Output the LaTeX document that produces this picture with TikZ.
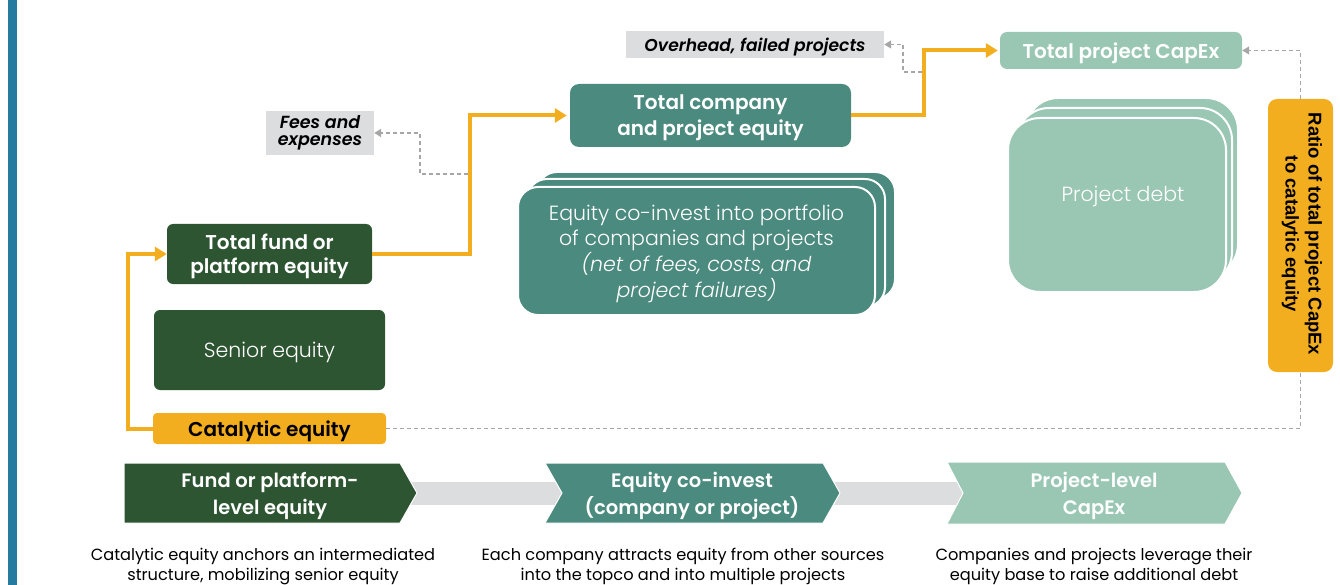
\documentclass[tikz,border=0pt]{standalone}
\usepackage{fontspec}
\setmainfont{Poppins}[BoldFont={Poppins SemiBold}, BoldItalicFont={Poppins SemiBold Italic}]
\newfontfamily\lightfont{Poppins Light}[ItalicFont={Poppins Light Italic}]
\newfontfamily\arialish{Liberation Sans}
\usetikzlibrary{arrows.meta}

\definecolor{dgreen}{HTML}{2D5532}
\definecolor{tealg}{HTML}{4B8A7E}
\definecolor{lgreen}{HTML}{99C7B3}
\definecolor{amber}{HTML}{F3AE1F}
\definecolor{boxgray}{HTML}{DCDDDF}
\definecolor{sideblue}{HTML}{267BA0}
\definecolor{dashgray}{HTML}{A6A6A6}

\tikzset{
  box/.style={rounded corners=6pt, inner sep=0pt, align=center, text=white, text depth=0pt},
  boldtxt/.style={font=\fontsize{20}{24}\selectfont\bfseries},
  lighttxt/.style={font=\lightfont\fontsize{20.5}{25.7}\selectfont},
  notebox/.style={fill=boxgray, inner sep=0pt, align=center, text=black},
  flow/.style={draw=amber, line width=4pt, -{Triangle[length=12pt,width=14pt]}},
  leak/.style={draw=dashgray, line width=1.3pt, dash pattern=on 4pt off 3pt,
    -{Triangle[length=7pt,width=8pt]}},
  leakplain/.style={draw=dashgray, line width=1.3pt, dash pattern=on 4pt off 3pt},
  layer/.style={draw=white, line width=2pt},
  chevtext/.style={text=white, align=center, text depth=0pt, font=\fontsize{19.5}{27}\selectfont\bfseries},
  caption/.style={text=black, align=center, font=\fontsize{16.2}{19.5}\selectfont},
}

\begin{document}
\begin{tikzpicture}[x=1pt, y=-1pt]
\useasboundingbox (0,0) rectangle (1340,585);

% left accent bar
\fill[sideblue] (8,0) rectangle (17,585);

% ---------- fund level ----------
\node[box, fill=dgreen, minimum width=205pt, minimum height=60pt, boldtxt] (fund) at (269.5,254) {Total fund or\\platform equity};
\node[box, fill=dgreen, minimum width=231pt, minimum height=80pt, lighttxt] (senior) at (269.5,350) {Senior equity};
\node[box, fill=amber, text=black, rounded corners=4pt, minimum width=233pt, minimum height=31pt, boldtxt] (cat) at (269.5,428.5) {Catalytic equity};

% ---------- company level ----------
\node[notebox, minimum width=108pt, minimum height=44pt, font=\fontsize{17.5}{16.5}\selectfont\bfseries\itshape] (fees) at (320,133) {Fees and\\expenses};
\node[box, fill=tealg, rounded corners=9pt, minimum width=281pt, minimum height=63pt, font=\fontsize{20}{26}\selectfont\bfseries] (comp) at (710.5,115.5) {Total company\\and project equity};

\fill[tealg, layer, rounded corners=20pt] (537,172) rectangle (895,299);
\fill[tealg, layer, rounded corners=20pt] (527,179) rectangle (885,307);
\node[box, fill=tealg, layer, rounded corners=20pt, minimum width=357pt, minimum height=128pt, lighttxt] (coinv) at (696.5,251)
  {Equity co-invest into portfolio\\of companies and projects\\\itshape (net of fees, costs, and\\\itshape project failures)};

% ---------- project level ----------
\node[notebox, minimum width=258pt, minimum height=27pt, text depth=0pt, font=\fontsize{17.2}{18}\selectfont\bfseries\itshape] (over) at (755,44.5) {Overhead, failed projects};
\node[box, fill=lgreen, rounded corners=7pt, minimum width=242pt, minimum height=37pt, boldtxt] (capex) at (1121,50.5) {Total project CapEx};

\fill[lgreen, layer, rounded corners=32pt] (1026,98) rectangle (1238,276);
\fill[lgreen, layer, rounded corners=32pt] (1017,108) rectangle (1232,284);
\node[box, fill=lgreen, layer, rounded corners=32pt, minimum width=218pt, minimum height=174pt] (debt) at (1117,205) {};
\node[text=white, text depth=0pt, lighttxt] (debtlabel) at (1123,194) {Project debt};

\node[box, fill=amber, rounded corners=9pt, minimum width=65pt, minimum height=273pt] (ratio) at (1300.5,235.5) {};
\node[rotate=-90, align=center, text=black, font=\arialish\fontsize{18.5}{23}\selectfont\bfseries]
  (ratiolabel) at (1302,234) {Ratio of total project CapEx\\to catalytic equity};

% ---------- flows ----------
\coordinate (j1) at (470,254);
\coordinate (j2) at (924,115.5);
\draw[flow] (cat.west) -- ++(-25,0) |- (fund.west);
\draw[flow] (fund.east) -- (j1) |- ([xshift=-3pt]comp.west);
\draw[flow] (comp.east) -- (j2) |- ([xshift=-2pt]capex.west);

\coordinate (t1) at (468,174);
\coordinate (t2) at (922,72);
\draw[leak] (t1) -- ++(-48,0) |- (fees.east);
\draw[leak] (t2) -- ++(-19,0) |- (over.east);
\draw[leak] (ratio.north) |- (capex.east);
\draw[leakplain] (cat.east) -| (ratio.south);

% ---------- stage chevrons ----------
\fill[boxgray] (405,482) rectangle (965,505);
\fill[dgreen, draw=white, line width=1pt] (124,463) -- (400,463) -- (417,493) -- (400,523) -- (124,523) -- cycle;
\fill[tealg, draw=white, line width=1pt] (545,463) -- (823,463) -- (840,493) -- (823,523) -- (545,523) -- (562,493) -- cycle;
\fill[lgreen, draw=white, line width=1pt] (947,462) -- (1225,462) -- (1242,493) -- (1225,524) -- (947,524) -- (963,493) -- cycle;

\node[chevtext] (stage1) at (270,493) {Fund or platform-\\level equity};
\node[chevtext] (stage2) at (692,493) {Equity co-invest\\(company or project)};
\node[chevtext] (stage3) at (1094,493) {Project-level\\CapEx};

\node[caption] (cap1) at (263,566.5) {Catalytic equity anchors an intermediated\\structure, mobilizing senior equity};
\node[caption] (cap2) at (683,566.5) {Each company attracts equity from other sources\\into the topco and into multiple projects};
\node[caption] (cap3) at (1094,566.5) {Companies and projects leverage their\\equity base to raise additional debt};

\end{tikzpicture}
\end{document}
